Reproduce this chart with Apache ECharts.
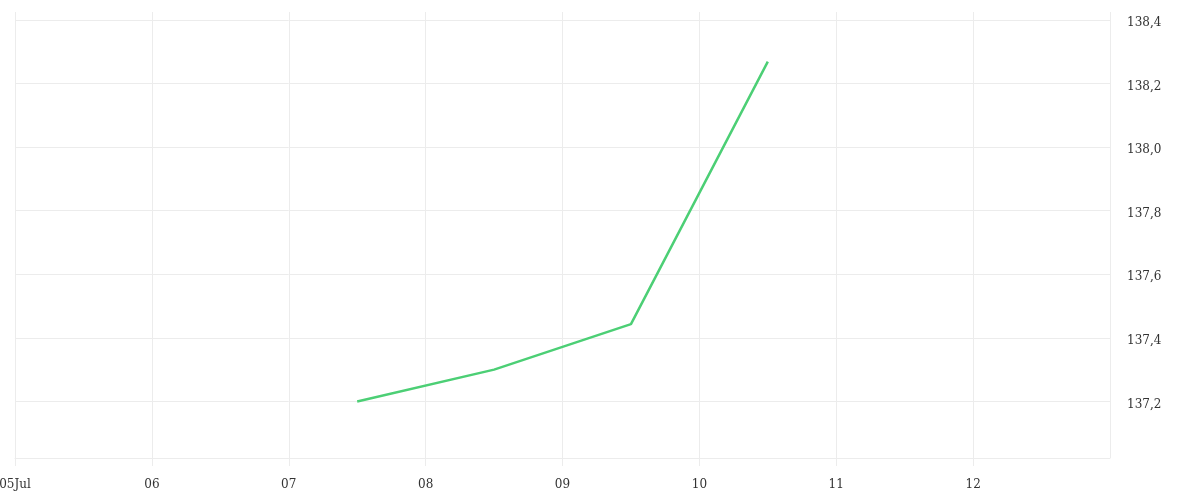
<!DOCTYPE html>
<html>
<head>
<meta charset="utf-8">
<script src="https://cdn.jsdelivr.net/npm/echarts@6/dist/echarts.min.js"></script>
<style>
html,body{margin:0;padding:0;background:#fff;}
#chart{width:1200px;height:500px;}
</style>
</head>
<body>
<div id="chart"></div>
<script>
// Data
var pointTimes = ['2024-07-07T12:00:00Z', '2024-07-08T12:00:00Z', '2024-07-09T12:00:00Z', '2024-07-10T12:00:00Z'];
var pointValues = [137.20, 137.30, 137.443, 138.269];
var xStart = '2024-07-05T00:00:00Z';
var xEnd = '2024-07-13T00:00:00Z';
var monthNames = ['Jan','Feb','Mar','Apr','May','Jun','Jul','Aug','Sep','Oct','Nov','Dec'];
var yMin = 137.022;
var yMax = 138.4;

var DAY = 86400000;
var seriesData = pointTimes.map(function (t, i) { return [Date.parse(t), pointValues[i]]; });
var gridColor = '#ececec';
var fontFam = 'DejaVu Serif';

function fmtX(v, idx) {
  var d = new Date(v);
  var dd = ('0' + d.getUTCDate()).slice(-2);
  if (idx === 0) return dd + monthNames[d.getUTCMonth()];
  return dd;
}

var chart = echarts.init(document.getElementById('chart'), null, {renderer: 'canvas'});
chart.setOption({
  animation: false,
  grid: {left: 15, right: 90, top: 20, bottom: 42, containLabel: false, outerBoundsMode: 'none'},
  xAxis: [{
    type: 'value',
    min: Date.parse(xStart),
    max: Date.parse(xEnd),
    interval: DAY,
    axisLine: {show: true, lineStyle: {color: gridColor, width: 1}},
    axisTick: {show: true, length: 8, lineStyle: {color: gridColor}},
    splitLine: {show: true, lineStyle: {color: gridColor, width: 1}},
    axisLabel: {
      formatter: fmtX, showMaxLabel: false, margin: 21,
      color: '#333', fontFamily: fontFam, fontSize: 12
    }
  }, {
    type: 'value',
    position: 'top',
    min: Date.parse(xStart),
    max: Date.parse(xEnd),
    interval: DAY,
    axisLine: {show: false},
    axisTick: {show: true, length: 8, lineStyle: {color: gridColor}},
    splitLine: {show: false},
    axisLabel: {show: false}
  }],
  yAxis: {
    type: 'value',
    position: 'right',
    min: yMin,
    max: yMax,
    splitNumber: 7,
    minInterval: 0.2,
    maxInterval: 0.2,
    axisLine: {show: false},
    axisTick: {show: false},
    splitLine: {show: true, lineStyle: {color: gridColor, width: 1}},
    axisLabel: {
      showMinLabel: false,
      margin: 17,
      verticalAlign: 'top',
      lineHeight: 6,
      color: '#333', fontFamily: fontFam, fontSize: 12,
      formatter: function (v) { return v.toFixed(1).replace('.', ','); }
    }
  },
  series: [{
    type: 'line',
    data: seriesData,
    showSymbol: false,
    symbol: 'none',
    lineStyle: {color: '#4ccf75', width: 2.5},
    itemStyle: {color: '#4ccf75'}
  }]
});
</script>
</body>
</html>
